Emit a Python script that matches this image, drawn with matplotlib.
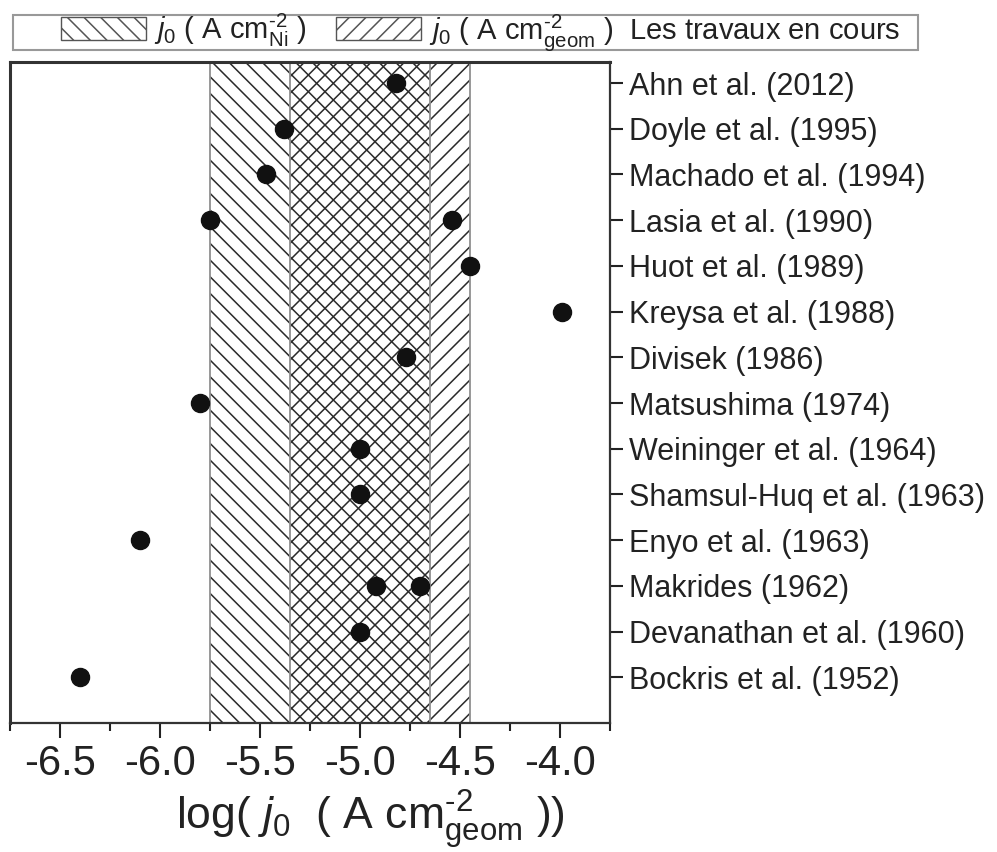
import matplotlib
matplotlib.use("Agg")
import matplotlib.pyplot as plt
from matplotlib.patches import Patch, Rectangle

plt.rcParams['font.family'] = ['Liberation Sans', 'DejaVu Sans']
plt.rcParams['mathtext.fontset'] = 'custom'
plt.rcParams['mathtext.rm'] = 'Liberation Sans'
plt.rcParams['mathtext.it'] = 'Liberation Sans:italic'
plt.rcParams['hatch.linewidth'] = 1.1

studies = ["Bockris et al. (1952)", "Devanathan et al. (1960)", "Makrides (1962)",
           "Enyo et al. (1963)", "Shamsul-Huq et al. (1963)", "Weininger et al. (1964)",
           "Matsushima (1974)", "Divisek (1986)", "Kreysa et al. (1988)",
           "Huot et al. (1989)", "Lasia et al. (1990)", "Machado et al. (1994)",
           "Doyle et al. (1995)", "Ahn et al. (2012)"]
# log(j0) values per study (some have two values)
log_j0 = [[-6.40], [-5.00], [-4.92, -4.70], [-6.10], [-5.00], [-5.00],
          [-5.80], [-4.77], [-3.99], [-4.45], [-5.75, -4.54], [-5.47],
          [-5.38], [-4.82]]

band_ni = (-5.75, -4.65)     # j0 (A cm^-2 Ni)
band_geom = (-5.35, -4.45)   # j0 (A cm^-2 geom)

fig = plt.figure(figsize=(9.97, 8.52), dpi=100)
ax = fig.add_axes([10/997, 1-723/852, 600/997, (723-62)/852])

hatch_col = '#2a2a2a'
edge_col = '#909090'
ax.axvspan(*band_ni, facecolor='none', edgecolor=hatch_col, hatch='\\\\', linewidth=0, zorder=1)
ax.axvspan(*band_geom, facecolor='none', edgecolor=hatch_col, hatch='//', linewidth=0, zorder=1)
for xv in (band_ni[0], band_geom[0], band_ni[1], band_geom[1]):
    ax.axvline(xv, color=edge_col, linewidth=1.3, zorder=2)

xs, ys = [], []
for i, vals in enumerate(log_j0):
    for v in vals:
        xs.append(v)
        ys.append(i + 1)
ax.plot(xs, ys, 'o', color='#111111', markersize=13, zorder=3, clip_on=False)

ax.set_xlim(-6.75, -3.75)
ax.set_ylim(0, 14.46)
ax.set_xticks([-6.5, -6.0, -5.5, -5.0, -4.5, -4.0])
ax.set_xticklabels(["-6.5", "-6.0", "-5.5", "-5.0", "-4.5", "-4.0"])
ax.set_xticks([-6.75, -6.25, -5.75, -5.25, -4.75, -4.25, -3.75], minor=True)
ax.tick_params(axis='x', which='major', length=11, width=1.5, labelsize=30, pad=4, colors='#222222')
ax.tick_params(axis='x', which='minor', length=6, width=1.5, colors='#222222')

ax.set_yticks(range(1, len(studies) + 1))
ax.set_yticklabels(studies)
ax.yaxis.tick_right()
ax.tick_params(axis='y', which='major', length=9, width=1.5, labelsize=22, pad=5,
               colors='#222222', left=False, right=True)

for s in ax.spines.values():
    s.set_linewidth(1.6)
    s.set_color('#333333')
ax.spines['left'].set_linewidth(2.2)
ax.spines['top'].set_linewidth(2.2)

ax.set_xlabel("log( $j_0$  ( A cm$^{\\text{-}2}_{\\rm geom}$ ))", fontsize=32, color='#222222')
ax.xaxis.set_label_coords(0.6, -0.098)

handles = [Patch(facecolor='none', edgecolor='#555555', hatch='\\\\', linewidth=1.0),
           Patch(facecolor='none', edgecolor='#555555', hatch='//', linewidth=1.0)]
labels = ["$j_0$ ( A cm$^{\\text{-}2}_{\\rm Ni}$ )",
          "$j_0$ ( A cm$^{\\text{-}2}_{\\rm geom}$ )  Les travaux en cours"]
leg = fig.legend(handles, labels, loc='center left', bbox_to_anchor=(61/997, 1-32/852),
                 ncol=2, fontsize=21, frameon=False,
                 handlelength=2.9, handleheight=0.8, columnspacing=1.0, handletextpad=0.3,
                 borderpad=0.0, borderaxespad=0)
for t in leg.get_texts():
    t.set_color('#222222')
fig.patches.append(Rectangle((13/997, 1-50/852), 905/997, 35/852, transform=fig.transFigure,
                             facecolor='none', edgecolor='#999999', linewidth=1.5))

fig.savefig("out.png", dpi=100)
